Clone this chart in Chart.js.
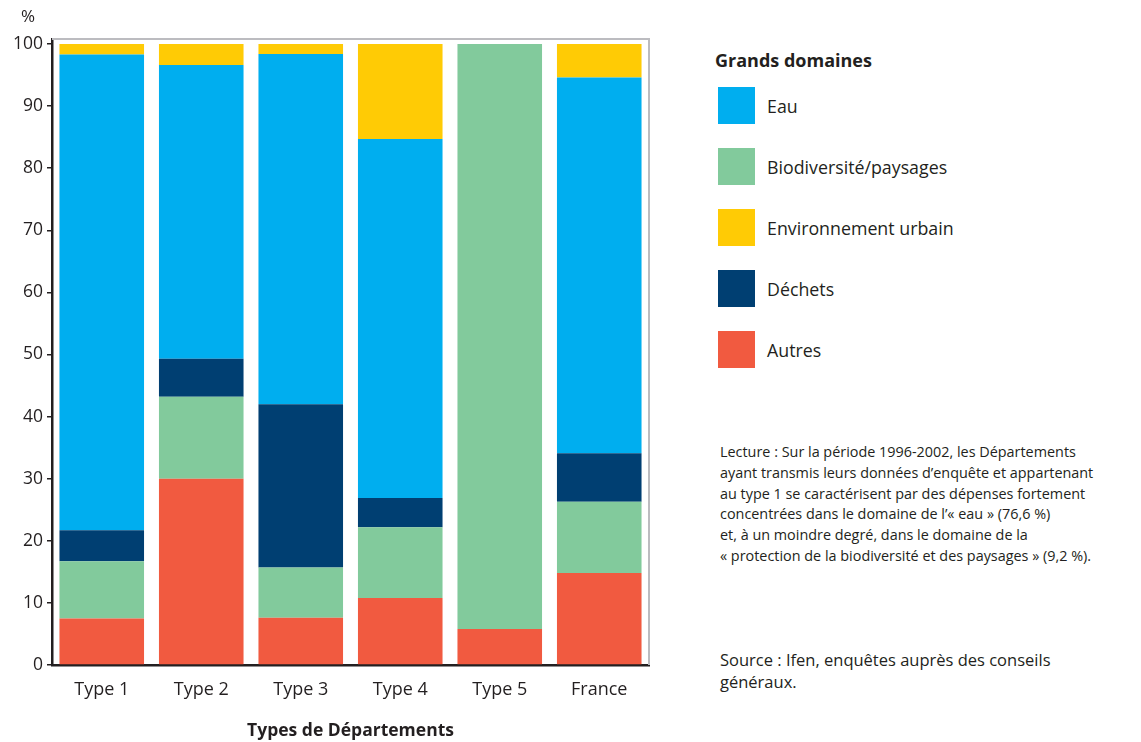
<!DOCTYPE html>
<html lang="fr">
<head>
<meta charset="utf-8">
<script src="https://cdn.jsdelivr.net/npm/chart.js@4/dist/chart.umd.min.js"></script>
<style>
  html, body { margin: 0; padding: 0; background: #fff; }
  body { width: 1141px; height: 742px; position: relative; overflow: hidden; font-family: "Open Sans", sans-serif; color: #231f20; }
  #wrap { position: absolute; left: 0; top: 0; width: 680px; height: 742px; }
  #pct { position: absolute; left: 21px; top: 4px; font-size: 17px; }
  #legend { position: absolute; left: 715px; top: 47px; }
  #legend h3 { margin: 0 0 14px 0; font-size: 18px; font-weight: 700; line-height: 26px; }
  .row { display: flex; align-items: center; height: 37px; margin-bottom: 24px; margin-left: 3px; }
  .sw { width: 37px; height: 37px; margin-right: 12px; }
  .row span { font-size: 17.8px; }
  #lecture { position: absolute; left: 720px; top: 442px; font-size: 14.4px; line-height: 20.8px; }
  #source { position: absolute; left: 720px; top: 649px; font-size: 16.5px; line-height: 22px; }
</style>
</head>
<body>
<div id="wrap"><canvas id="chart"></canvas></div>
<div id="pct">%</div>
<div id="legend"><h3>Grands domaines</h3></div>
<div id="lecture">Lecture : Sur la période 1996-2002, les Départements<br>ayant transmis leurs données d’enquête et appartenant<br>au type 1 se caractérisent par des dépenses fortement<br>concentrées dans le domaine de l’« eau » (76,6 %)<br>et, à un moindre degré, dans le domaine de la<br>« protection de la biodiversité et des paysages » (9,2 %).</div>
<div id="source">Source : Ifen, enquêtes auprès des conseils<br>généraux.</div>
<script>
const categories = ['Type 1', 'Type 2', 'Type 3', 'Type 4', 'Type 5', 'France'];

// stacked from bottom to top
const autres   = [7.5, 30.0, 7.6, 10.8, 5.8, 14.8];
const biodiv   = [9.2, 13.2, 8.1, 11.4, 94.2, 11.5];
const dechets  = [5.0, 6.1, 26.3, 4.7, 0, 7.8];
const eau      = [76.6, 47.3, 56.4, 57.8, 0, 60.5];
const urbain   = [1.7, 3.4, 1.6, 15.3, 0, 5.4];

const yTicks = [0, 10, 20, 30, 40, 50, 60, 70, 80, 90, 100];

const series = [
  { label: 'Autres', data: autres, color: '#f15a40' },
  { label: 'Biodiversité/paysages', data: biodiv, color: '#82ca9c' },
  { label: 'Déchets', data: dechets, color: '#003f72' },
  { label: 'Eau', data: eau, color: '#00aeef' },
  { label: 'Environnement urbain', data: urbain, color: '#ffcb05' }
];

// legend order as in the picture
const legendOrder = ['Eau', 'Biodiversité/paysages', 'Environnement urbain', 'Déchets', 'Autres'];
const legend = document.getElementById('legend');
legendOrder.forEach(name => {
  const s = series.find(x => x.label === name);
  const row = document.createElement('div');
  row.className = 'row';
  row.innerHTML = `<div class="sw" style="background:${s.color}"></div><span>${name}</span>`;
  legend.appendChild(row);
});

// gray frame on top and right of the plot
const framePlugin = {
  id: 'frame',
  beforeDatasetsDraw(chart) {
    const { ctx, chartArea: a } = chart;
    ctx.save();
    ctx.strokeStyle = '#bcbcc0';
    ctx.lineWidth = 2;
    ctx.beginPath();
    ctx.moveTo(a.left, a.top);
    ctx.lineTo(a.right, a.top);
    ctx.lineTo(a.right, a.bottom);
    ctx.stroke();
    ctx.restore();
  }
};

const ctx = document.getElementById('chart').getContext('2d');
new Chart(ctx, {
  type: 'bar',
  data: {
    labels: categories,
    datasets: series.map(s => ({
      label: s.label,
      data: s.data,
      backgroundColor: s.color,
      borderWidth: 0,
      barPercentage: 0.85,
      categoryPercentage: 1
    }))
  },
  options: {
    responsive: true,
    maintainAspectRatio: false,
    animation: false,
    layout: { padding: { top: 39, right: 31, left: 0, bottom: 0 } },
    plugins: {
      legend: { display: false },
      tooltip: { enabled: false }
    },
    scales: {
      x: {
        stacked: true,
        grid: { display: false, drawTicks: false },
        border: { display: true, color: '#231f20', width: 2.5 },
        ticks: { color: '#231f20', font: { family: 'Open Sans', size: 18 }, padding: 14 },
        title: { display: true, text: 'Types de Départements', color: '#231f20', font: { family: 'Open Sans', size: 17.5, weight: 'bold' }, padding: { top: 9, bottom: 0 } },
        afterFit: scale => { scale.height = 77; }
      },
      y: {
        stacked: true,
        min: 0,
        max: 100.8,
        afterBuildTicks: axis => { axis.ticks = yTicks.map(v => ({ value: v })); },
        grid: { drawOnChartArea: false, drawTicks: true, tickLength: 5, color: '#231f20', lineWidth: 1.5 },
        border: { display: true, color: '#231f20', width: 2.5 },
        ticks: { color: '#231f20', font: { family: 'Open Sans', size: 17.5 }, padding: 4 },
        afterFit: scale => { scale.width = 52; }
      }
    }
  },
  plugins: [framePlugin]
});
</script>
</body>
</html>
